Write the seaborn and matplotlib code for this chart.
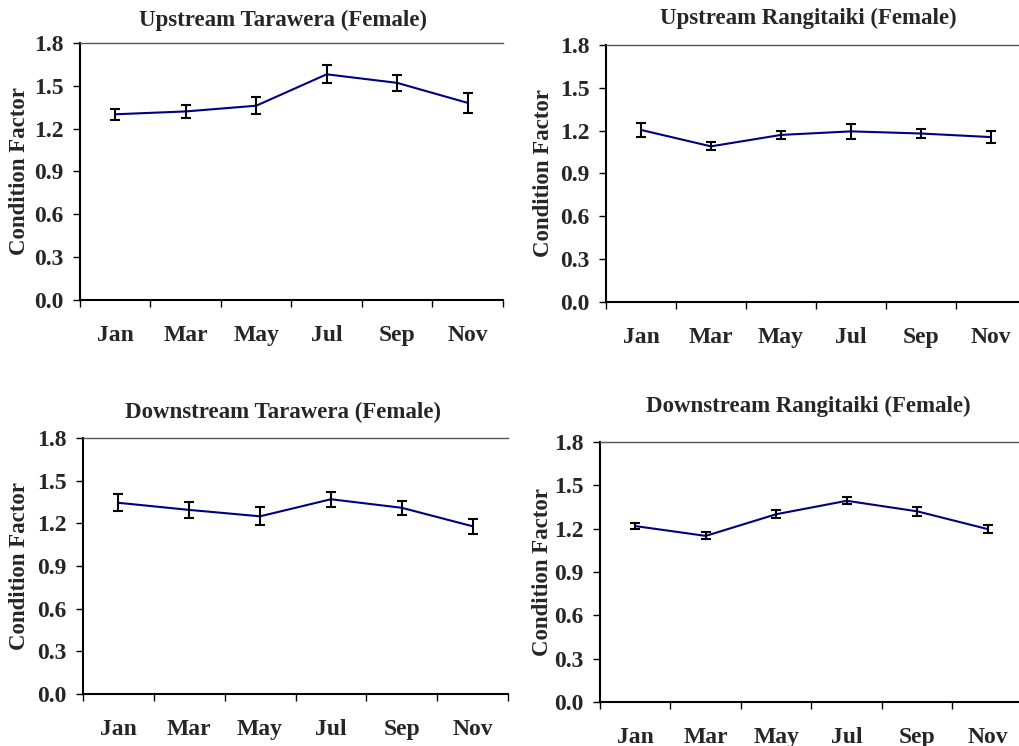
import numpy as np
import matplotlib
matplotlib.use("Agg")
import matplotlib.pyplot as plt
import seaborn as sns

# Monthly condition factor (mean and error) for female fish at four sites
months = ["Jan", "Mar", "May", "Jul", "Sep", "Nov"]

up_tarawera = [1.30, 1.32, 1.36, 1.58, 1.52, 1.38]
up_tarawera_err = [0.037, 0.043, 0.060, 0.062, 0.057, 0.071]

up_rangitaiki = [1.205, 1.09, 1.17, 1.195, 1.18, 1.155]
up_rangitaiki_err = [0.049, 0.028, 0.030, 0.052, 0.033, 0.045]

down_tarawera = [1.345, 1.295, 1.25, 1.37, 1.31, 1.18]
down_tarawera_err = [0.061, 0.057, 0.062, 0.053, 0.048, 0.054]

down_rangitaiki = [1.218, 1.15, 1.30, 1.393, 1.32, 1.197]
down_rangitaiki_err = [0.023, 0.025, 0.029, 0.025, 0.033, 0.030]

yticks = [0.0, 0.3, 0.6, 0.9, 1.2, 1.5, 1.8]

sns.set_style("white")
plt.rcParams['font.family'] = ['Liberation Serif', 'DejaVu Serif']
plt.rcParams['font.weight'] = 'bold'

TICK_FS = 17
LABEL_FS = 16.5


def draw_panel(fig, rect, title, title_xy, label_x, vals, errs):
    ax = fig.add_axes(rect)
    xpos = np.arange(len(months)) + 0.5
    sns.lineplot(x=xpos, y=vals, color="#000080", linewidth=1.5, ax=ax)
    ax.errorbar(xpos, vals, yerr=errs, fmt='none', ecolor='black',
                elinewidth=1.5, capsize=3.5, capthick=1.5)

    ax.set_xlim(0, len(months))
    ax.set_ylim(0, 1.8)

    # boundary ticks between months, labels centred on the months
    ax.set_xticks(np.arange(len(months) + 1))
    ax.set_xticklabels([])
    ax.set_xticks(xpos, minor=True)
    ax.set_xticklabels(months, minor=True, fontsize=TICK_FS, fontweight='bold')
    ax.tick_params(axis='x', which='major', direction='out', length=5,
                   width=1, bottom=True, color='black')
    ax.tick_params(axis='x', which='minor', length=0, pad=18)

    ax.set_yticks(yticks)
    ax.set_yticklabels([f"{v:.1f}" for v in yticks], fontsize=TICK_FS,
                       fontweight='bold')
    ax.tick_params(axis='y', direction='out', length=5, width=1, left=True,
                   color='black', pad=7)

    ax.set_ylabel("Condition Factor", fontsize=LABEL_FS, fontweight='bold',
                  va='center')
    ax.yaxis.set_label_coords(label_x, 0.5)

    ax.spines['right'].set_visible(False)
    ax.spines['left'].set_color('black')
    ax.spines['left'].set_linewidth(1.5)
    ax.spines['bottom'].set_color('black')
    ax.spines['bottom'].set_linewidth(1.5)
    ax.spines['top'].set_color('#555555')
    ax.spines['top'].set_linewidth(1.0)

    W, H = fig.get_size_inches() * fig.dpi
    fig.text(title_xy[0] / W, 1 - title_xy[1] / H, title, fontsize=LABEL_FS,
             fontweight='bold', ha='center', va='center')
    return ax


fig = plt.figure(figsize=(10.19, 7.46), dpi=100)

draw_panel(fig, [0.0785, 0.598, 0.415, 0.3445],
           "Upstream Tarawera (Female)", (283, 20), -0.144,
           up_tarawera, up_tarawera_err)
draw_panel(fig, [0.5947, 0.5952, 0.412, 0.3445],
           "Upstream Rangitaiki (Female)", (808, 18), -0.15,
           up_rangitaiki, up_rangitaiki_err)
draw_panel(fig, [0.0815, 0.0697, 0.417, 0.343],
           "Downstream Tarawera (Female)", (283, 412), -0.15,
           down_tarawera, down_tarawera_err)
draw_panel(fig, [0.5888, 0.0590, 0.4151, 0.3485],
           "Downstream Rangitaiki (Female)", (808, 406), -0.135,
           down_rangitaiki, down_rangitaiki_err)

plt.savefig("out.png", dpi=100)
